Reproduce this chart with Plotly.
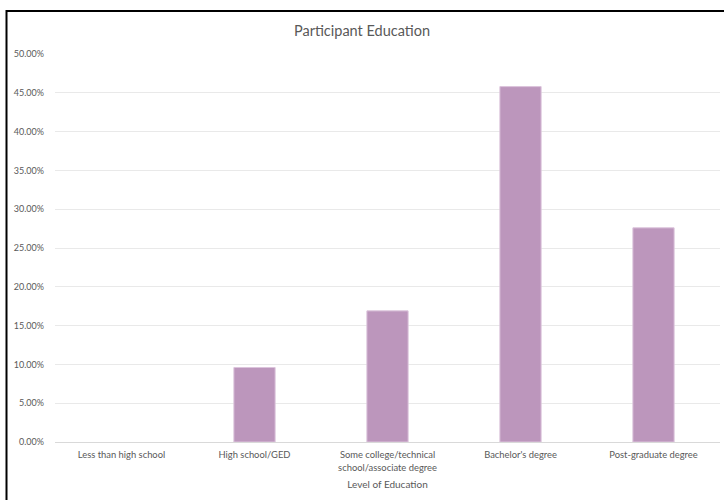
import plotly.graph_objects as go

categories = ["Less than high school", "High school/GED",
              "Some college/technical<br>school/associate degree",
              "Bachelor's degree", "Post-graduate degree"]
shares = [0.0, 0.096, 0.169, 0.458, 0.276]
y_ticks = [i * 0.05 for i in range(11)]

W, H = 724, 500
L, R, T, B = 55, 4, 54, 58
pw, ph = W - L - R, H - T - B

fig = go.Figure(go.Bar(
    x=categories, y=shares, width=0.31,
    marker=dict(color="#BC96BC",
                line=dict(color="#DCC4DC",
                          width=[0 if v == 0 else 1 for v in shares])),
))

def px_x(p):
    return (p - L) / pw

def px_y(p):
    return (H - B - p) / ph

frame = dict(color="black", width=2)
fig.update_layout(
    width=W, height=H,
    margin=dict(l=L, r=R, t=T, b=B),
    paper_bgcolor="white", plot_bgcolor="white",
    font=dict(family="Lato, Open Sans, sans-serif", color="#595959", size=9),
    title=dict(text="Participant Education", x=0.5, xanchor="center",
               y=1 - 31 / H, yanchor="middle",
               font=dict(size=14.5, color="#595959")),
    showlegend=False,
    xaxis=dict(showgrid=False, showline=True, linecolor="#D9D9D9", linewidth=1,
               ticks="", ticklabelstandoff=4,
               tickfont=dict(size=9.4, color="#595959"),
               title=dict(text="Level of Education", standoff=9,
                          font=dict(size=10, color="#595959"))),
    yaxis=dict(range=[0, 0.5], tickvals=y_ticks, tickformat=".2%",
               showgrid=True, gridcolor="#E9E9E9", gridwidth=1,
               zeroline=False, showline=False, ticks="",
               ticklabelstandoff=10,
               tickfont=dict(size=9, color="#595959")),
    shapes=[
        dict(type="line", xref="paper", yref="paper",
             x0=px_x(6.5), x1=px_x(W + 5), y0=px_y(11), y1=px_y(11),
             line=frame, layer="above"),
        dict(type="line", xref="paper", yref="paper",
             x0=px_x(6.5), x1=px_x(6.5), y0=px_y(10), y1=px_y(H + 5),
             line=frame, layer="above"),
    ],
)

fig.write_html("out.html", config={"displayModeBar": False},
               post_script="document.body.style.margin='0';document.body.style.overflow='hidden';")
